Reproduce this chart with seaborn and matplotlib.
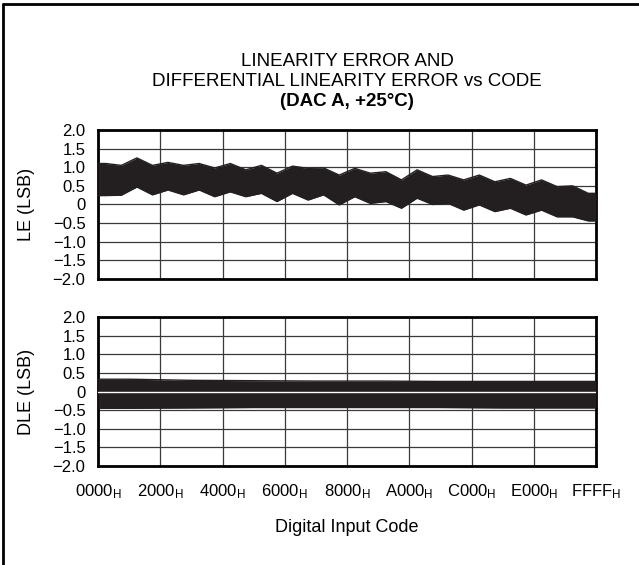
import numpy as np
import pandas as pd
import matplotlib
matplotlib.use("Agg")
import matplotlib.pyplot as plt
from matplotlib.lines import Line2D
import seaborn as sns

# Code axis: 0000h..FFFFh, in 32 segments of 0x800 codes for LE, 8 of 0x2000 for DLE
CODE_MAX = 65535
LE_SEG = 2048
DLE_SEG = 8192

# Linearity error band (LSB): upper / lower extent per segment
le_upper = [1.10, 1.05, 1.25, 1.05, 1.13, 1.05, 1.10, 0.98,
            1.10, 0.93, 1.05, 0.84, 1.03, 0.97, 0.98, 0.79,
            0.97, 0.84, 0.88, 0.66, 0.93, 0.75, 0.79, 0.66,
            0.79, 0.61, 0.70, 0.52, 0.66, 0.48, 0.50, 0.30]
le_lower = [0.24, 0.25, 0.47, 0.26, 0.39, 0.26, 0.39, 0.21,
            0.34, 0.21, 0.30, 0.08, 0.30, 0.12, 0.26, -0.01,
            0.21, 0.03, 0.08, -0.10, 0.17, 0.00, 0.03, -0.15,
            -0.01, -0.19, -0.10, -0.28, -0.15, -0.33, -0.33, -0.44]

# Differential linearity error band (LSB)
dle_upper = [0.33, 0.30, 0.29, 0.28, 0.28, 0.27, 0.27, 0.27]
dle_lower = [-0.45, -0.44, -0.43, -0.43, -0.43, -0.43, -0.44, -0.44]

x_tick_codes = [0x0000, 0x2000, 0x4000, 0x6000, 0x8000, 0xA000, 0xC000, 0xE000, 0xFFFF]
x_tick_text = ["0000", "2000", "4000", "6000", "8000", "A000", "C000", "E000", "FFFF"]
y_ticks = [2.0, 1.5, 1.0, 0.5, 0.0, -0.5, -1.0, -1.5, -2.0]
y_tick_text = ["2.0", "1.5", "1.0", "0.5", "0", "\u22120.5", "\u22121.0", "\u22121.5", "\u22122.0"]

sns.set_theme(style="white")
plt.rcParams["font.family"] = ["Liberation Sans", "DejaVu Sans"]
plt.rcParams["mathtext.fontset"] = "custom"
plt.rcParams["mathtext.rm"] = "Liberation Sans"
plt.rcParams["mathtext.it"] = "Liberation Sans"

BAND = "#231f20"
GRID = "#3a3a3a"


def segment_frame(upper, lower, seg):
    """Band extents placed at each segment's centre, held flat to both ends."""
    n = len(upper)
    centres = [(i + 0.5) * seg for i in range(n)]
    return pd.DataFrame({
        "code": [0] + centres + [CODE_MAX],
        "upper": [upper[0]] + list(upper) + [upper[-1]],
        "lower": [lower[0]] + list(lower) + [lower[-1]],
    })


fig = plt.figure(figsize=(6.39, 5.65), dpi=100)
ax_le = fig.add_axes([98 / 639, 1 - 279 / 565, 498 / 639, 149 / 565])
ax_dle = fig.add_axes([98 / 639, 1 - 466 / 565, 498 / 639, 149 / 565])

le_df = segment_frame(le_upper, le_lower, LE_SEG)
dle_df = segment_frame(dle_upper, dle_lower, DLE_SEG)

for ax, df, label in [(ax_le, le_df, "LE (LSB)"), (ax_dle, dle_df, "DLE (LSB)")]:
    ax.fill_between(df["code"], df["lower"], df["upper"], color=BAND, lw=0, zorder=3)
    for col in ("upper", "lower"):
        sns.lineplot(data=df, x="code", y=col, ax=ax, color=BAND, lw=1.0, zorder=3)
    ax.set_xlim(0, CODE_MAX)
    ax.set_ylim(-2.0, 2.0)
    ax.set_xticks(x_tick_codes)
    ax.set_yticks(y_ticks)
    ax.set_yticklabels(y_tick_text)
    ax.grid(True, color=GRID, lw=0.9, zorder=1)
    ax.set_axisbelow(True)
    ax.tick_params(axis="both", length=0, colors="black")
    ax.tick_params(axis="y", pad=9, labelsize=12)
    ax.tick_params(axis="x", pad=12, labelsize=12)
    for sp in ax.spines.values():
        sp.set_visible(True)
        sp.set_color("black")
        sp.set_linewidth(2.0)
    ax.set_xlabel("")
    ax.set_ylabel(label, fontsize=13, color="black")
    ax.yaxis.set_label_coords(-0.127, 0.5)

# zero reference drawn in white through the DLE band
ax_dle.axhline(0, color="white", lw=1.0, zorder=4)

ax_le.set_xticklabels([])
ax_dle.set_xticklabels([t + r"$_\mathrm{H}$" for t in x_tick_text])

fig.text(347 / 639, 1 - 527 / 565, "Digital Input Code", ha="center", va="center",
         fontsize=13, color="black")

fig.text(347 / 639, 1 - 62 / 565, "LINEARITY ERROR AND", ha="center", va="center",
         fontsize=13.5, color="black")
fig.text(347 / 639, 1 - 82 / 565, "DIFFERENTIAL LINEARITY ERROR vs CODE",
         ha="center", va="center", fontsize=13.5, color="black")
fig.text(347 / 639, 1 - 102 / 565, "(DAC A, +25\u00b0C)", ha="center", va="center",
         fontsize=13.5, fontweight="bold", color="black")

# outer frame (left and top edges)
fig.add_artist(Line2D([2.5 / 639, 2.5 / 639], [0, 1 - 4 / 565], color="black", lw=2.0))
fig.add_artist(Line2D([2.5 / 639, 1], [1 - 4 / 565, 1 - 4 / 565], color="black", lw=2.0))

fig.savefig("out.png", dpi=100)
